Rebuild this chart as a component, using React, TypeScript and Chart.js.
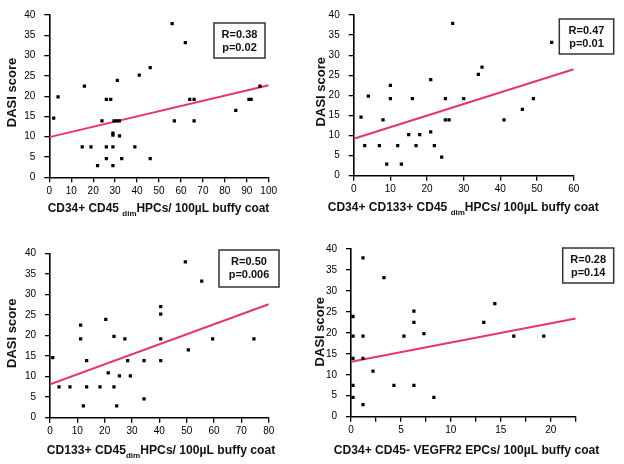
import React, { useEffect, useRef } from "react";
import { Chart, registerables } from "chart.js";

Chart.register(...registerables);

const FONT = "'Liberation Sans', Arial, Helvetica, sans-serif";
const FIT_COLOR = "#e8336b";
const Y_MAX = 40;
const Y_STEP = 5;

// Panel 1: CD34+ CD45dim HPCs
const p1X = [2, 4, 15, 16, 19, 22, 24, 26, 26, 26, 28, 29, 29, 29, 29, 29.5, 30.7, 31.9, 31, 32, 33, 39, 41, 46, 46, 56, 57, 62, 64, 66, 66, 85, 91, 92, 96];
const p1Y = [14.6, 19.8, 7.5, 22.5, 7.5, 2.9, 13.9, 19.2, 7.5, 4.6, 19.2, 10.4, 10.9, 7.5, 2.9, 13.9, 13.9, 13.9, 23.9, 10.2, 4.6, 7.5, 25.2, 27, 4.6, 37.9, 13.9, 33.2, 19.2, 19.2, 13.9, 16.5, 19.2, 19.2, 22.5];
const p1FitX = [0, 100];
const p1FitY = [9.9, 22.7];

// Panel 2: CD34+ CD133+ CD45dim HPCs
const p2X = [2, 3, 4, 7, 8, 9, 10, 10, 12, 13, 15, 16, 17, 18, 21, 21, 22, 24, 25, 25, 26, 27, 30, 34, 35, 41, 46, 49, 54];
const p2Y = [14.6, 7.5, 19.8, 7.5, 13.9, 2.9, 22.5, 19.2, 7.5, 2.9, 10.2, 19.2, 7.5, 10.2, 23.9, 10.9, 7.5, 4.6, 19.2, 13.9, 13.9, 37.9, 19.2, 25.2, 27, 13.9, 16.5, 19.2, 33.2];
const p2FitX = [0, 60];
const p2FitY = [9.2, 26.5];

// Panel 3: CD133+ CD45dim HPCs
const p3X = [1, 3.3, 7.3, 11.2, 11.2, 12.2, 13.4, 13.4, 18.3, 20.4, 21.3, 23.4, 23.4, 24.4, 25.4, 27.4, 28.4, 29.4, 34.4, 34.4, 40.5, 40.5, 40.5, 40.5, 49.5, 50.6, 55.5, 59.5, 74.6];
const p3Y = [14.6, 7.5, 7.5, 22.5, 19.2, 2.9, 13.9, 7.5, 7.5, 23.9, 10.9, 19.8, 7.5, 2.9, 10.2, 19.2, 13.9, 10.2, 13.9, 4.6, 27, 25.2, 19.2, 13.9, 37.9, 16.5, 33.2, 19.2, 19.2];
const p3FitX = [0, 80];
const p3FitY = [8.1, 27.6];

// Panel 4: CD34+ CD45- VEGFR2 EPCs
const p4X = [0.2, 0.2, 0.2, 0.2, 0.2, 1.2, 1.2, 1.2, 1.2, 2.2, 3.3, 4.3, 5.3, 6.3, 6.3, 6.3, 7.3, 8.3, 13.3, 14.4, 16.3, 19.3];
const p4Y = [23.9, 19.2, 13.9, 7.5, 4.6, 37.9, 19.2, 13.9, 2.9, 10.9, 33.2, 7.5, 19.2, 25.2, 22.5, 7.5, 19.8, 4.6, 22.5, 27, 19.2, 19.2];
const p4FitX = [0, 22.5];
const p4FitY = [13.1, 23.4];

type Seg = { t: string; sub?: boolean };

const p1Title: Seg[] = [{ t: "CD34+ CD45 " }, { t: "dim", sub: true }, { t: "HPCs/ 100µL buffy coat" }];
const p2Title: Seg[] = [{ t: "CD34+ CD133+ CD45 " }, { t: "dim", sub: true }, { t: "HPCs/ 100µL buffy coat" }];
const p3Title: Seg[] = [{ t: "CD133+ CD45" }, { t: "dim", sub: true }, { t: "HPCs/ 100µL buffy coat" }];
const p4Title: Seg[] = [{ t: "CD34+ CD45- VEGFR2 EPCs/ 100µL buffy coat" }];

const W = 312;
const H = 232;

type PanelCfg = {
  left: number;
  top: number;
  area: { l: number; t: number; r: number; b: number };
  xs: number[];
  ys: number[];
  fitX: number[];
  fitY: number[];
  xMax: number;
  xStep: number;
  xLabelEvery: number;
  title: Seg[];
  titleL: number;
  titleR: number;
  titleBase: number;
  yTitle: { x: number; y: number };
  box: { l: number; t: number; r: number; b: number };
  r: string;
  p: string;
};

const panels: PanelCfg[] = [
  {
    left: 0, top: 0,
    area: { l: 49.3, t: 13.3, r: 268.7, b: 177.3 },
    xs: p1X, ys: p1Y, fitX: p1FitX, fitY: p1FitY,
    xMax: 100, xStep: 10, xLabelEvery: 10,
    title: p1Title, titleL: 47.7, titleR: 269.3, titleBase: 211.5,
    yTitle: { x: 12.2, y: 92.5 },
    box: { l: 214, t: 23, r: 265, b: 58 }, r: "R=0.38", p: "p=0.02",
  },
  {
    left: 312, top: 0,
    area: { l: 41.7, t: 11.7, r: 261.7, b: 175.7 },
    xs: p2X, ys: p2Y, fitX: p2FitX, fitY: p2FitY,
    xMax: 60, xStep: 10, xLabelEvery: 10,
    title: p2Title, titleL: 15.7, titleR: 286.7, titleBase: 210.7,
    yTitle: { x: 9.5, y: 91.7 },
    box: { l: 247.3, t: 19, r: 301.7, b: 54 }, r: "R=0.47", p: "p=0.01",
  },
  {
    left: 0, top: 232,
    area: { l: 50, t: 21.3, r: 268.7, b: 185.7 },
    xs: p3X, ys: p3Y, fitX: p3FitX, fitY: p3FitY,
    xMax: 80, xStep: 10, xLabelEvery: 10,
    title: p3Title, titleL: 46.7, titleR: 275.3, titleBase: 222,
    yTitle: { x: 12.2, y: 101.3 },
    box: { l: 219, t: 18, r: 279, b: 55 }, r: "R=0.50", p: "p=0.006",
  },
  {
    left: 312, top: 232,
    area: { l: 39, t: 17, r: 263.7, b: 184.7 },
    xs: p4X, ys: p4Y, fitX: p4FitX, fitY: p4FitY,
    xMax: 22.5, xStep: 2.5, xLabelEvery: 5,
    title: p4Title, titleL: 21.7, titleR: 287.3, titleBase: 222.3,
    yTitle: { x: 8.5, y: 99.7 },
    box: { l: 250.7, t: 16, r: 301.7, b: 51 }, r: "R=0.28", p: "p=0.14",
  },
];

function drawRich(ctx: CanvasRenderingContext2D, segs: Seg[], left: number, right: number, baseline: number) {
  const mainFont = `bold 12px ${FONT}`;
  const subFont = `bold 8px ${FONT}`;
  const widths = segs.map((s) => {
    ctx.font = s.sub ? subFont : mainFont;
    return ctx.measureText(s.t).width;
  });
  const total = widths.reduce((a, b) => a + b, 0);
  const sx = (right - left) / total;
  ctx.save();
  ctx.translate(left, baseline);
  ctx.scale(sx, 1);
  ctx.fillStyle = "#111";
  ctx.textAlign = "left";
  ctx.textBaseline = "alphabetic";
  let x = 0;
  segs.forEach((s, i) => {
    ctx.font = s.sub ? subFont : mainFont;
    ctx.fillText(s.t, x, s.sub ? 4 : 0);
    x += widths[i];
  });
  ctx.restore();
}

const panelTextPlugin = {
  id: "panelText",
  afterDraw(chart: any, _args: any, opts: any) {
    const cfg: PanelCfg = opts.cfg;
    if (!cfg) return;
    const ctx: CanvasRenderingContext2D = chart.ctx;
    ctx.save();
    // x-axis title
    drawRich(ctx, cfg.title, cfg.titleL, cfg.titleR, cfg.titleBase);
    // y-axis title
    ctx.save();
    ctx.translate(cfg.yTitle.x, cfg.yTitle.y);
    ctx.rotate(-Math.PI / 2);
    ctx.font = `bold 13px ${FONT}`;
    ctx.fillStyle = "#111";
    ctx.textAlign = "center";
    ctx.textBaseline = "middle";
    ctx.fillText("DASI score", 0, 0);
    ctx.restore();
    // R / p box
    const b = cfg.box;
    ctx.fillStyle = "#fff";
    ctx.fillRect(b.l, b.t, b.r - b.l, b.b - b.t);
    ctx.strokeStyle = "#333";
    ctx.lineWidth = 1.5;
    ctx.strokeRect(b.l, b.t, b.r - b.l, b.b - b.t);
    ctx.font = `bold 11px ${FONT}`;
    ctx.fillStyle = "#111";
    ctx.textAlign = "center";
    ctx.textBaseline = "middle";
    const cx = (b.l + b.r) / 2;
    ctx.fillText(cfg.r, cx, b.t + 12);
    ctx.fillText(cfg.p, cx, b.t + 25);
    ctx.restore();
  },
};

function Panel({ cfg }: { cfg: PanelCfg }) {
  const ref = useRef<HTMLCanvasElement | null>(null);
  useEffect(() => {
    if (!ref.current) return;
    const tickFont = { family: FONT, size: 10 };
    const chart = new Chart(ref.current, {
      type: "scatter",
      data: {
        datasets: [
          {
            type: "line",
            data: cfg.fitX.map((x, i) => ({ x, y: cfg.fitY[i] })),
            borderColor: FIT_COLOR,
            backgroundColor: FIT_COLOR,
            borderWidth: 2,
            pointRadius: 0,
            fill: false,
            order: 2,
          } as any,
          {
            type: "scatter",
            data: cfg.xs.map((x, i) => ({ x, y: cfg.ys[i] })),
            pointStyle: "rect",
            pointRadius: 2.3,
            backgroundColor: "#000",
            borderColor: "#000",
            borderWidth: 0,
            order: 1,
          } as any,
        ],
      },
      options: {
        responsive: false,
        animation: false,
        events: [],
        layout: { padding: { left: 0, top: cfg.area.t, right: W - cfg.area.r, bottom: 0 } },
        plugins: {
          legend: { display: false },
          tooltip: { enabled: false },
          panelText: { cfg },
        } as any,
        scales: {
          x: {
            type: "linear",
            min: 0,
            max: cfg.xMax,
            ticks: {
              stepSize: cfg.xStep,
              autoSkip: false,
              maxRotation: 0,
              color: "#000",
              font: tickFont,
              padding: 3,
              callback: (v: any) => (Math.abs(v / cfg.xLabelEvery - Math.round(v / cfg.xLabelEvery)) < 1e-6 ? String(v) : ""),
            },
            grid: { display: true, drawOnChartArea: false, drawTicks: true, tickLength: 5, color: "#000", lineWidth: 1.3 },
            border: { display: true, color: "#000", width: 1.6 },
            afterFit: (s: any) => {
              s.height = H - cfg.area.b;
            },
          },
          y: {
            type: "linear",
            min: 0,
            max: Y_MAX,
            ticks: { stepSize: Y_STEP, color: "#000", font: tickFont, padding: 9 },
            grid: { display: true, drawOnChartArea: false, drawTicks: true, tickLength: 5, color: "#000", lineWidth: 1.3 },
            border: { display: true, color: "#000", width: 1.6 },
            afterFit: (s: any) => {
              s.width = cfg.area.l;
            },
          },
        } as any,
      },
      plugins: [panelTextPlugin as any],
    });
    return () => chart.destroy();
  }, [cfg]);
  return (
    <canvas
      ref={ref}
      width={W}
      height={H}
      style={{ position: "absolute", left: cfg.left, top: cfg.top, width: W, height: H, display: "block" }}
    />
  );
}

export default function App() {
  return (
    <div style={{ position: "absolute", left: 0, top: 0, width: 624, height: 464, background: "#fff", overflow: "hidden" }}>
      {panels.map((p, i) => (
        <Panel key={i} cfg={p} />
      ))}
    </div>
  );
}
